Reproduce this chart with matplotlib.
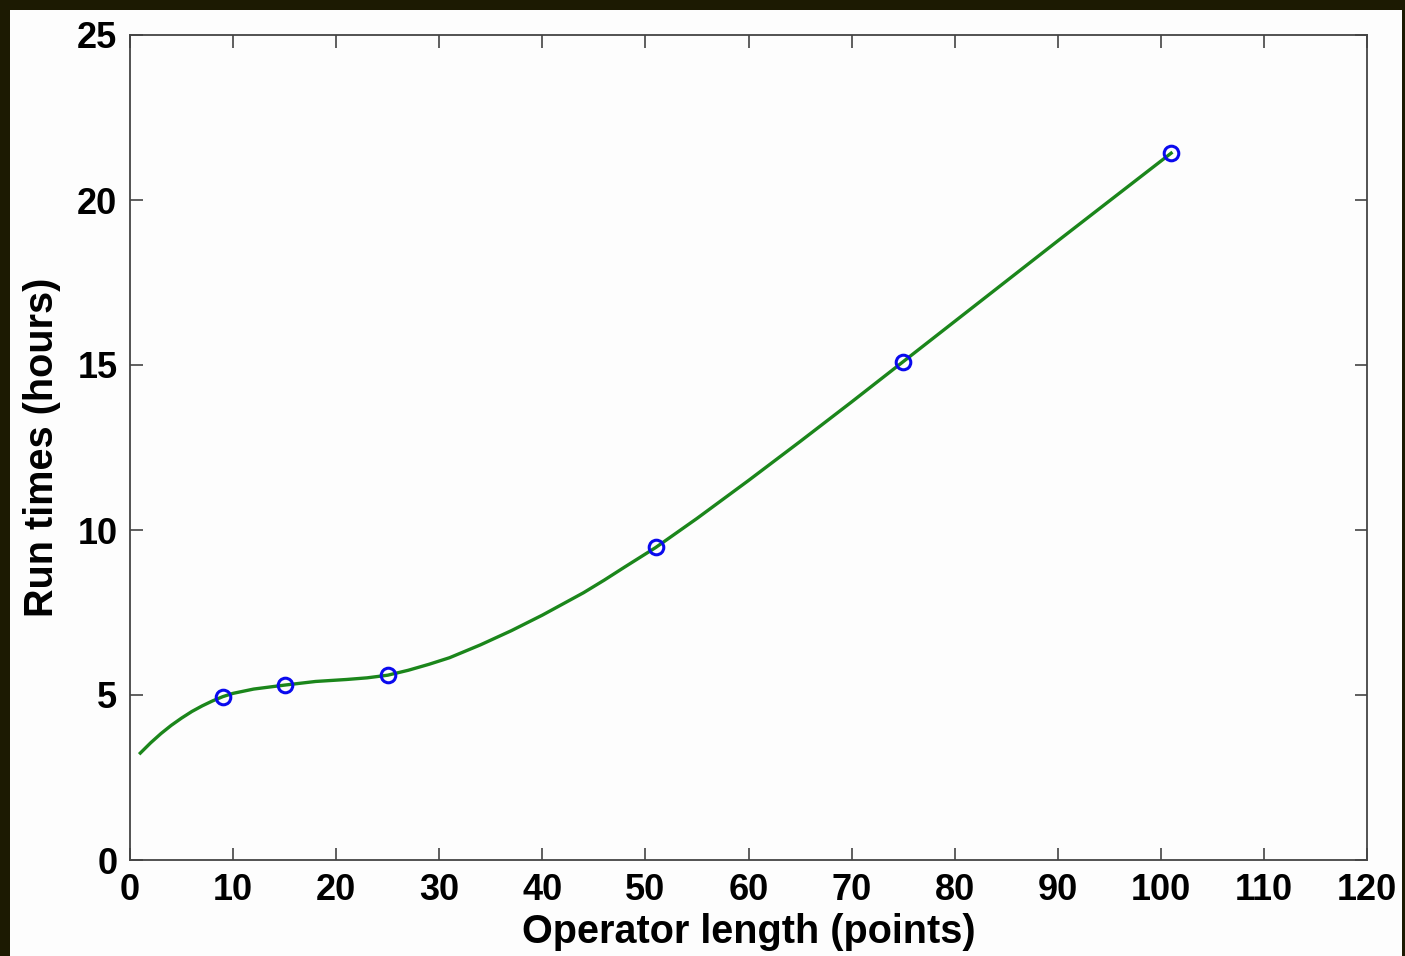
import matplotlib.pyplot as plt
from matplotlib.patches import Rectangle

plt.rcParams['font.family'] = ['Liberation Sans', 'DejaVu Sans']

# measured run times
op_length = [9, 15, 25, 51, 75, 101]
run_hours = [4.95, 5.30, 5.60, 9.47, 15.10, 21.42]

# fitted curve
fit_x = [1, 2, 3, 4, 5, 6, 7, 8, 9, 10, 12, 15, 18, 21, 23, 25, 27, 29, 31,
         34, 37, 40, 42, 44, 46, 48, 51, 55, 60, 65, 70, 75, 80, 85, 90, 95,
         101]
fit_y = [3.24, 3.55, 3.83, 4.08, 4.30, 4.50, 4.67, 4.82, 4.95, 5.05, 5.18,
         5.30, 5.41, 5.47, 5.52, 5.60, 5.75, 5.93, 6.13, 6.52, 6.95, 7.42,
         7.76, 8.10, 8.48, 8.88, 9.47, 10.35, 11.50, 12.68, 13.88, 15.10,
         16.32, 17.54, 18.76, 19.97, 21.42]

x_ticks = [0, 10, 20, 30, 40, 50, 60, 70, 80, 90, 100, 110, 120]
y_ticks = [0, 5, 10, 15, 20, 25]

fig = plt.figure(figsize=(14.05, 9.56), dpi=100, facecolor='#1c1a02')
fig.patches.append(Rectangle((10 / 1405, 0), 1392 / 1405, 946 / 956,
                             transform=fig.transFigure, facecolor='#fdfdfd',
                             edgecolor='none', zorder=-10))

ax = fig.add_axes([130 / 1405, 96 / 956, 1237 / 1405, 825 / 956])
ax.set_facecolor('#fdfdfd')

ax.plot(fit_x, fit_y, color='#1b861b', linewidth=2.4, zorder=2,
        solid_joinstyle='round')
ax.plot(op_length, run_hours, linestyle='none', marker='o', markersize=10.5,
        markerfacecolor='none', markeredgecolor='#0a0aee', markeredgewidth=2.2,
        zorder=3)

ax.set_xlim(0, 120)
ax.set_ylim(0, 25)
ax.set_xticks(x_ticks)
ax.set_yticks(y_ticks)
ax.tick_params(direction='in', length=9, width=1.2, color='#444444',
               top=True, right=True, labelsize=26, pad=9)
for lab in ax.get_xticklabels() + ax.get_yticklabels():
    lab.set_fontweight('bold')
for sp in ax.spines.values():
    sp.set_color('#444444')
    sp.set_linewidth(1.3)

ax.set_xlabel('Operator length (points)', fontsize=28.5, fontweight='bold',
              labelpad=4)
ax.set_ylabel('Run times (hours)', fontsize=28.5, fontweight='bold',
              labelpad=12)

fig.savefig('out.png', dpi=100, facecolor=fig.get_facecolor())
